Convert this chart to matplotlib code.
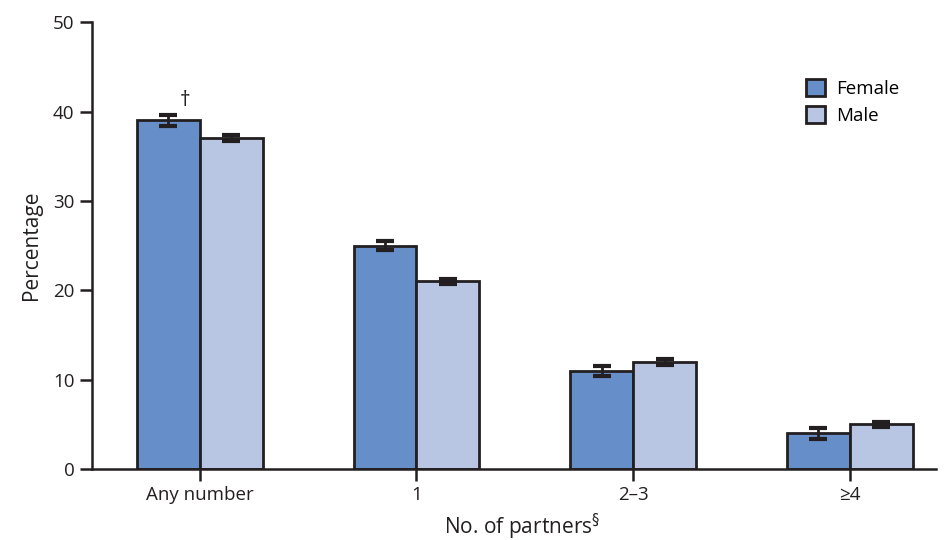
import numpy as np
import matplotlib.pyplot as plt
from matplotlib.patches import Patch

plt.rcParams['font.family'] = ['Open Sans', 'DejaVu Sans']

categories = ['Any number', '1', '2\u20133', '\u22654']
female = [39.0, 25.0, 11.0, 4.0]
male = [37.0, 21.0, 12.0, 5.0]
female_err = [0.6, 0.5, 0.55, 0.6]
male_err = [0.35, 0.3, 0.35, 0.3]

female_color = '#668ec8'
male_color = '#b8c6e3'
edge = '#231f20'

fig = plt.figure(figsize=(9.51, 5.4), dpi=100)
ax = fig.add_axes([0.0967, 0.1315, 0.888, 0.8275])

x = np.arange(len(categories))
w = 0.29
err_kw = dict(ecolor=edge, elinewidth=2, capsize=6.5, capthick=3)
ax.bar(x - w / 2, female, w, color=female_color, edgecolor=edge, linewidth=2,
       yerr=female_err, error_kw=err_kw, label='Female')
ax.bar(x + w / 2, male, w, color=male_color, edgecolor=edge, linewidth=2,
       yerr=male_err, error_kw=err_kw, label='Male')

# dagger above female "Any number"
ax.text(x[0] - w / 2 + 0.075, female[0] + 1.1, '\u2020', ha='center', va='bottom',
        fontsize=15, color=edge)

ax.set_xlim(-0.498, 3.40)
ax.set_ylim(0, 50)
ax.set_yticks([0, 10, 20, 30, 40, 50])
ax.set_xticks(x)
ax.set_xticklabels(categories)
ax.tick_params(axis='both', labelsize=13.5, colors=edge, width=1.8, length=8.5,
               pad=4, direction='out')
for s in ['top', 'right']:
    ax.spines[s].set_visible(False)
for s in ['left', 'bottom']:
    ax.spines[s].set_linewidth(1.8)
    ax.spines[s].set_color(edge)

ax.set_ylabel('Percentage', fontsize=15, color=edge, labelpad=8)
ax.set_xlabel('No. of partners$^{\\S}$', fontsize=15, color=edge, labelpad=5)
ax.xaxis.set_label_coords(0.51, -0.095)

handles = [Patch(facecolor=female_color, edgecolor=edge, linewidth=2),
           Patch(facecolor=male_color, edgecolor=edge, linewidth=2)]
ax.legend(handles, ['Female', 'Male'], loc='upper left',
          bbox_to_anchor=(0.837, 0.89), frameon=False, fontsize=13.5,
          handlelength=1.0, handleheight=1.0, handletextpad=0.6,
          labelspacing=0.45, borderaxespad=0)

fig.savefig('out.png', dpi=100)
